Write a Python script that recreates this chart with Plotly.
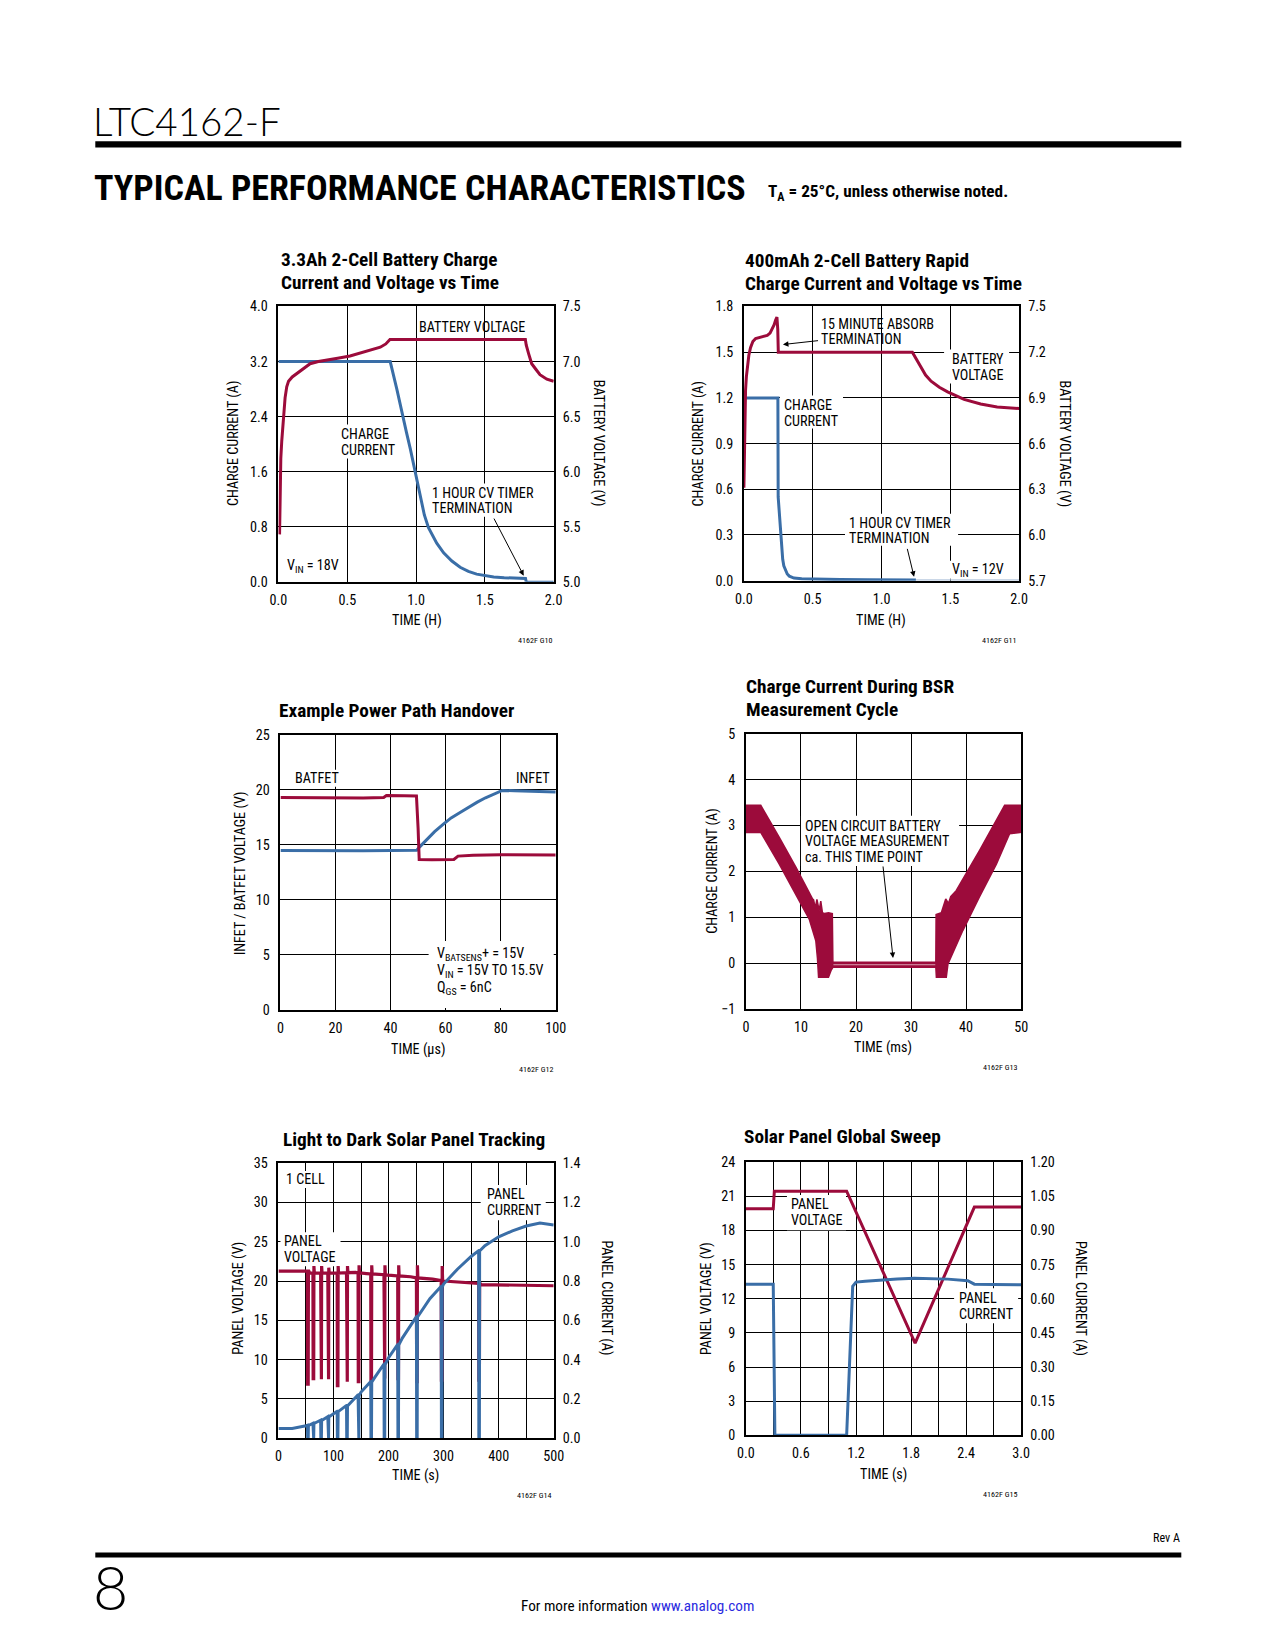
import plotly.graph_objects as go

PAGE_W, PAGE_H = 1275, 1650
OFF = 8                      # default body margin of the html page
FW, FH = PAGE_W - 2 * OFF, PAGE_H - 2 * OFF
# measured placement correction of the photographed page (scale + offset)
SX, X0 = 0.984, 8.9
SY, Y0 = 0.9895, 7.8
FS = 1 / 0.987               # font size compensation

RED = "#9C0B3B"
BLUE = "#3A6EA7"
PALE_BLUE = "#B8CADF"
PALE_RED = "#D9A0B0"
NARROW = "'Liberation Sans Narrow', 'Arial Narrow', 'Roboto Condensed', Roboto, sans-serif"
THIN = "Lato, 'Open Sans', sans-serif"

# ---------------- DATA ----------------
# G10: 3.3Ah 2-cell battery charge
G10_T_I = [0.0, 0.812, 0.86, 0.897, 0.93, 0.958, 0.994, 1.03, 1.06, 1.09, 1.12, 1.15, 1.2, 1.26,
           1.32, 1.38, 1.44, 1.50, 1.564, 1.64, 1.72, 1.795, 1.80]
G10_I = [3.2, 3.2, 2.80, 2.45, 2.17, 1.93, 1.60, 1.22, 0.97, 0.785, 0.66, 0.56, 0.42, 0.30,
         0.21, 0.15, 0.11, 0.085, 0.068, 0.058, 0.052, 0.048, 0.0]
G10_T_I_TAIL = [1.80, 2.0]
G10_I_TAIL = [0.004, 0.004]
G10_T_V = [0.008, 0.012, 0.017, 0.024, 0.036, 0.048, 0.06, 0.073, 0.10, 0.133, 0.18, 0.23, 0.29,
           0.35, 0.43, 0.52, 0.60, 0.67, 0.74, 0.78, 0.81, 1.794, 1.80, 1.818, 1.84, 1.87, 1.90,
           1.95, 2.0]
G10_V = [5.43, 5.9, 6.12, 6.28, 6.52, 6.67, 6.77, 6.82, 6.86, 6.89, 6.94, 6.98, 7.0,
         7.01, 7.03, 7.05, 7.08, 7.10, 7.13, 7.16, 7.2, 7.2, 7.15, 7.07, 6.98, 6.93, 6.88,
         6.84, 6.82]
G10_XT = [0, 0.5, 1.0, 1.5, 2.0]
G10_XL = ["0.0", "0.5", "1.0", "1.5", "2.0"]
G10_YT = [0, 0.8, 1.6, 2.4, 3.2, 4.0]
G10_YL = ["0.0", "0.8", "1.6", "2.4", "3.2", "4.0"]
G10_Y2T = [5.0, 5.5, 6.0, 6.5, 7.0, 7.5]
G10_Y2L = ["5.0", "5.5", "6.0", "6.5", "7.0", "7.5"]

# G11: 400mAh 2-cell rapid charge
G11_T_V = [0.0, 0.004, 0.008, 0.012, 0.018, 0.024, 0.036, 0.048, 0.065, 0.085, 0.12, 0.17, 0.19,
           0.206, 0.22, 0.23, 0.24, 0.246, 0.25, 1.224, 1.25, 1.285, 1.32, 1.36, 1.42, 1.48, 1.6,
           1.72, 1.84, 2.0]
G11_V = [6.31, 6.6, 6.82, 6.95, 7.04, 7.1, 7.18, 7.23, 7.27, 7.29, 7.30, 7.31, 7.325,
         7.35, 7.38, 7.41, 7.43, 7.35, 7.2, 7.2, 7.16, 7.10, 7.05, 7.01, 6.97, 6.94, 6.89,
         6.86, 6.84, 6.83]
G11_T_I = [0.0, 0.247, 0.249, 0.255, 0.262, 0.268, 0.274, 0.282, 0.29, 0.30, 0.315, 0.33, 0.364,
           0.42, 0.51, 0.7, 0.9, 1.1, 1.25]
G11_I = [1.2, 1.2, 0.55, 0.48, 0.35, 0.27, 0.197, 0.14, 0.098, 0.07, 0.044, 0.03, 0.017,
         0.012, 0.009, 0.007, 0.006, 0.005, 0.005]
G11_T_I_TAIL = [1.25, 2.0]
G11_I_TAIL = [0.004, 0.004]
G11_XT = [0, 0.5, 1.0, 1.5, 2.0]
G11_XL = ["0.0", "0.5", "1.0", "1.5", "2.0"]
G11_YT = [0, 0.3, 0.6, 0.9, 1.2, 1.5, 1.8]
G11_YL = ["0.0", "0.3", "0.6", "0.9", "1.2", "1.5", "1.8"]
G11_Y2T = [5.7, 6.0, 6.3, 6.6, 6.9, 7.2, 7.5]
G11_Y2L = ["5.7", "6.0", "6.3", "6.6", "6.9", "7.2", "7.5"]

# G12: power path handover
G12_T_BAT = [0, 10, 20, 30, 37.5, 38.5, 45, 49.4, 50.0, 50.4, 55, 60, 63, 64.5, 70, 80, 90, 100]
G12_V_BAT = [19.3, 19.28, 19.3, 19.27, 19.3, 19.48, 19.47, 19.45, 16.5, 13.67, 13.65, 13.65,
             13.68, 13.98, 14.05, 14.1, 14.12, 14.08]
G12_T_IN = [0, 10, 20, 30, 40, 49.5, 50.5, 53.3, 56, 59.3, 62, 65.4, 68.5, 71.5, 74.5, 77.5,
            80.6, 85, 90, 95, 100]
G12_V_IN = [14.5, 14.48, 14.5, 14.47, 14.5, 14.52, 14.8, 15.55, 16.2, 16.9, 17.45, 17.97, 18.45,
            18.88, 19.28, 19.64, 19.94, 19.92, 19.9, 19.85, 19.8]
G12_XT = [0, 20, 40, 60, 80, 100]
G12_XL = ["0", "20", "40", "60", "80", "100"]
G12_YT = [0, 5, 10, 15, 20, 25]
G12_YL = ["0", "5", "10", "15", "20", "25"]

# G13: BSR measurement cycle (envelope of the noisy current trace)
G13_T_UP = [0, 2.7, 6.06, 9.1, 12.1, 12.3, 12.6, 12.9, 13.3, 13.6, 13.9, 14.3, 15.0, 15.7, 15.8,
            34.5, 34.55, 35.5, 36.3, 36.8, 37.2, 38.2, 42.4, 45.5, 47.0, 50]
G13_I_UP = [3.44, 3.44, 2.74, 2.09, 1.40, 1.38, 1.2, 1.39, 1.15, 1.35, 1.1, 1.08, 1.1, 1.08, 0.02,
            0.02, 1.06, 1.1, 1.4, 1.3, 1.45, 1.58, 2.45, 3.11, 3.44, 3.44]
G13_T_LO = [0, 2.7, 6.06, 9.1, 11.5, 12.7, 13.0, 13.2, 15.0, 15.5, 15.8, 34.5, 34.6, 36.4, 36.7,
            39.4, 42.4, 45.5, 47.9, 50]
G13_I_LO = [2.85, 2.85, 2.16, 1.5, 0.96, 0.49, 0.1, -0.31, -0.31, -0.15, -0.09, -0.09, -0.31,
            -0.31, -0.02, 0.71, 1.44, 2.16, 2.82, 2.85]
G13_T_MID = [15.9, 34.4]
G13_I_MID = [-0.035, -0.035]
G13_XT = [0, 10, 20, 30, 40, 50]
G13_XL = ["0", "10", "20", "30", "40", "50"]
G13_YT = [-1, 0, 1, 2, 3, 4, 5]
G13_YL = ["\u22121", "0", "1", "2", "3", "4", "5"]

# G14: light to dark solar panel tracking
G14_T_V = [0, 50, 57, 100, 140, 160, 200, 240, 280, 300, 330, 360, 368, 400, 450, 500]
G14_V = [21.25, 21.25, 21.0, 21.0, 21.1, 20.95, 20.75, 20.55, 20.25, 20.0, 19.85, 19.8, 19.55,
         19.5, 19.45, 19.4]
G14_T_I = [0, 25, 50, 70, 100, 120, 150, 175, 200, 225, 250, 275, 300, 325, 350, 375, 400, 425,
           450, 475, 500]
G14_I = [0.05, 0.05, 0.064, 0.083, 0.125, 0.16, 0.235, 0.31, 0.41, 0.51, 0.615, 0.71, 0.785,
         0.86, 0.925, 0.98, 1.025, 1.055, 1.08, 1.095, 1.085]
G14_DIP_T = [53, 63, 77, 90, 107, 124, 145, 168, 192, 217, 251, 296, 364]
G14_DIP_V_BASE = [21.25, 21.0, 21.0, 21.0, 21.02, 21.06, 21.05, 20.9, 20.8, 20.65, 20.4, 20.05, 19.7]
G14_DIP_V_LOW = [6.9, 7.6, 7.5, 7.5, 6.7, 7.2, 7.2, 7.4, 7.6, 7.6, 7.2, 7.4, 7.4]
G14_DIP_V_HIGH = [21.25, 21.9, 21.9, 21.7, 21.9, 21.9, 22.0, 22.0, 22.0, 22.0, 22.0, 21.9, 19.7]
G14_DIP_I_BASE = [0.066, 0.076, 0.092, 0.11, 0.137, 0.167, 0.222, 0.289, 0.378, 0.478, 0.619,
                  0.773, 0.955]
G14_DIP_I_LOW = [0.0] * 13
G14_XT = [0, 100, 200, 300, 400, 500]
G14_XL = ["0", "100", "200", "300", "400", "500"]
G14_XGRID_MINOR = [50, 150, 250, 350, 450]
G14_YT = [0, 5, 10, 15, 20, 25, 30, 35]
G14_YL = ["0", "5", "10", "15", "20", "25", "30", "35"]
G14_Y2T = [0, 0.2, 0.4, 0.6, 0.8, 1.0, 1.2, 1.4]
G14_Y2L = ["0.0", "0.2", "0.4", "0.6", "0.8", "1.0", "1.2", "1.4"]

# G15: solar panel global sweep
G15_T_V = [0, 0.298, 0.31, 1.098, 1.844, 2.49, 3.0]
G15_V = [19.9, 19.9, 21.45, 21.45, 8.1, 20.05, 20.05]
G15_T_I = [0, 0.298, 0.316, 1.098, 1.164, 1.2, 1.3, 1.473, 1.65, 1.836, 2.0, 2.2, 2.418, 2.46,
           2.49, 2.7, 3.0]
G15_I = [0.664, 0.664, 0.0, 0.0, 0.654, 0.673, 0.677, 0.683, 0.687, 0.69, 0.688, 0.686, 0.679,
         0.672, 0.664, 0.662, 0.661]
G15_XT = [0, 0.6, 1.2, 1.8, 2.4, 3.0]
G15_XL = ["0.0", "0.6", "1.2", "1.8", "2.4", "3.0"]
G15_XGRID_MINOR = [0.3, 0.9, 1.5, 2.1, 2.7]
G15_YT = [0, 3, 6, 9, 12, 15, 18, 21, 24]
G15_YL = ["0", "3", "6", "9", "12", "15", "18", "21", "24"]
G15_Y2T = [0, 0.15, 0.30, 0.45, 0.60, 0.75, 0.90, 1.05, 1.20]
G15_Y2L = ["0.00", "0.15", "0.30", "0.45", "0.60", "0.75", "0.90", "1.05", "1.20"]


def with_dips(base_t, base_v, dip_t, dip_base, dip_low, dip_high):
    pts = list(zip(base_t, base_v))
    for t, b, lo, hi in zip(dip_t, dip_base, dip_low, dip_high):
        pts += [(t - 0.4, b), (t, lo), (t + 1.0, lo), (t + 1.4, hi), (t + 2.2, b)]
    pts.sort()
    return [p[0] for p in pts], [p[1] for p in pts]


# target page px -> figure paper coordinates
def PX(x):
    return ((x - X0) / SX - OFF) / FW


def PY(y):
    return 1 - ((y - Y0) / SY - OFF) / FH


# ---------------- LAYOUT GEOMETRY (target page px) ----------------
BOX = {
    "g10": (278, 553, 306, 581),
    "g11": (743, 1018, 306, 580),
    "g12": (280, 555, 734, 1009),
    "g13": (745, 1020, 733, 1008),
    "g14": (278, 553, 1162, 1437),
    "g15": (745, 1020, 1161, 1434),
}
AX = {"g10": ("x", "y", "y2"), "g11": ("x2", "y3", "y4"), "g12": ("x3", "y5", None),
      "g13": ("x4", "y6", None), "g14": ("x5", "y7", "y8"), "g15": ("x6", "y9", "y10")}
RANGES = {}

TICKFONT = dict(family=NARROW, size=14 * FS, color="black")


def lk(a):
    return "xaxis" + a[1:] if a.startswith("x") else "yaxis" + a[1:]


layout_axes = {}


def make_axes(key, xr, xt, xl, yr, yt, yl, y2r=None, y2t=None, y2l=None, xminor=None):
    L, R, T, B = BOX[key]
    RANGES[key] = (xr, yr)
    xa, ya, y2a = AX[key]
    common = dict(showline=True, mirror=True, linecolor="black", linewidth=1.6,
                  showgrid=True, gridcolor="black", gridwidth=1, zeroline=False,
                  ticks="", tickfont=TICKFONT, fixedrange=True, tickmode="array")
    xd = dict(common, domain=[PX(L), PX(R)], range=xr, tickvals=xt, ticktext=xl, anchor=ya,
              ticklabelstandoff=4)
    if xminor:
        xd["minor"] = dict(tickmode="array", tickvals=xminor, showgrid=True, gridcolor="black",
                           gridwidth=1, ticks="")
    layout_axes[lk(xa)] = xd
    layout_axes[lk(ya)] = dict(common, domain=[PY(B), PY(T)], range=yr, tickvals=yt,
                               ticktext=yl, anchor=xa, ticklabelstandoff=6)
    if y2a:
        layout_axes[lk(y2a)] = dict(showline=False, showgrid=False, zeroline=False, ticks="",
                                    tickfont=TICKFONT, fixedrange=True, tickmode="array",
                                    overlaying=ya, side="right", anchor=xa, range=y2r,
                                    tickvals=y2t, ticktext=y2l, ticklabelstandoff=8)


make_axes("g10", [0, 2], G10_XT, G10_XL, [0, 4], G10_YT, G10_YL, [5, 7.5], G10_Y2T, G10_Y2L)
make_axes("g11", [0, 2], G11_XT, G11_XL, [0, 1.8], G11_YT, G11_YL, [5.7, 7.5], G11_Y2T, G11_Y2L)
make_axes("g12", [0, 100], G12_XT, G12_XL, [0, 25], G12_YT, G12_YL)
make_axes("g13", [0, 50], G13_XT, G13_XL, [-1, 5], G13_YT, G13_YL)
make_axes("g14", [0, 500], G14_XT, G14_XL, [0, 35], G14_YT, G14_YL, [0, 1.4], G14_Y2T, G14_Y2L,
          xminor=G14_XGRID_MINOR)
make_axes("g15", [0, 3], G15_XT, G15_XL, [0, 24], G15_YT, G15_YL, [0, 1.2], G15_Y2T, G15_Y2L,
          xminor=G15_XGRID_MINOR)

fig = go.Figure()

# white masks (behind the curves, above the grid) where the labels interrupt the grid
MASKS = {
    "g10": [(336, 400, 424, 458), (427, 540, 483, 516)],
    "g11": [(943, 1008, 349, 383), (779, 842, 395, 428), (844, 957, 513, 545),
            (946, 1008, 560, 578)],
    "g12": [(291, 340, 769, 786), (511, 550, 769, 786), (428, 553, 940, 1007)],
    "g13": [(800, 958, 815, 865)],
    "g14": [(282, 328, 1170, 1187), (280, 340, 1231, 1265), (480, 545, 1184, 1219)],
    "g15": [(786, 845, 1194, 1229), (953, 1017, 1287, 1322)],
}
for key, rects in MASKS.items():
    L, R, T, B = BOX[key]
    (x0r, x1r), (y0r, y1r) = RANGES[key]
    xa, ya, _ = AX[key]
    mx, my = [], []
    for (px0, px1, py0, py1) in rects:
        a = x0r + (px0 - L) / (R - L) * (x1r - x0r)
        b = x0r + (px1 - L) / (R - L) * (x1r - x0r)
        c = y0r + (B - py1) / (B - T) * (y1r - y0r)
        d = y0r + (B - py0) / (B - T) * (y1r - y0r)
        mx += [a, b, b, a, a, None]
        my += [c, c, d, d, c, None]
    fig.add_trace(go.Scatter(x=mx, y=my, mode="lines", fill="toself", fillcolor="white",
                             line=dict(width=0, color="white"), xaxis=xa, yaxis=ya,
                             hoverinfo="skip", showlegend=False))


def line(key, x, y, color, width=3.0, right=False):
    xa, ya, y2a = AX[key]
    fig.add_trace(go.Scatter(x=x, y=y, mode="lines", line=dict(color=color, width=width),
                             xaxis=xa, yaxis=(y2a if right else ya), hoverinfo="skip",
                             showlegend=False))


# G10
line("g10", G10_T_I, G10_I, BLUE)
line("g10", G10_T_I_TAIL, G10_I_TAIL, BLUE, 1.5)
line("g10", G10_T_V, G10_V, RED, right=True)
# G11
line("g11", G11_T_I, G11_I, BLUE)
line("g11", G11_T_I_TAIL, G11_I_TAIL, PALE_BLUE, 1.5)
line("g11", G11_T_V, G11_V, RED, right=True)
# G12
line("g12", G12_T_IN, G12_V_IN, BLUE)
line("g12", G12_T_BAT, G12_V_BAT, RED)
# G13
fig.add_trace(go.Scatter(x=G13_T_UP + G13_T_LO[::-1], y=G13_I_UP + G13_I_LO[::-1], mode="lines",
                         fill="toself", fillcolor=RED, line=dict(color=RED, width=1.5),
                         xaxis="x4", yaxis="y6", hoverinfo="skip", showlegend=False))
line("g13", G13_T_MID, G13_I_MID, PALE_RED, 1.0)
# G14
tv, vv = with_dips(G14_T_V, G14_V, G14_DIP_T, G14_DIP_V_BASE, G14_DIP_V_LOW, G14_DIP_V_HIGH)
ti, ii = with_dips(G14_T_I, G14_I, G14_DIP_T, G14_DIP_I_BASE, G14_DIP_I_LOW, G14_DIP_I_BASE)
line("g14", tv, vv, RED, 3.2)
line("g14", ti, ii, BLUE, 3.0, right=True)
# G15
line("g15", G15_T_V, G15_V, RED)
line("g15", G15_T_I, G15_I, BLUE, right=True)

# ---------------- TEXT ----------------
ANN = []


def txt(s, x, y, size=14, xanchor="left", color="black", angle=0, family=NARROW, weight=None):
    f = dict(family=family, size=size * FS, color=color)
    if weight is not None:
        f["weight"] = weight
    ANN.append(dict(text=s, x=PX(x), y=PY(y), xref="paper", yref="paper", xanchor=xanchor,
                    yanchor="middle", showarrow=False, font=f, textangle=angle))


def lines(strs, x, y0, dy, **kw):
    for i, s in enumerate(strs):
        txt(s, x, y0 + i * dy, **kw)


def arrow(hx, hy, tx, ty):
    ANN.append(dict(text="", x=PX(hx), y=PY(hy), xref="paper", yref="paper",
                    ax=(tx - hx) / SX, ay=(ty - hy) / SY, axref="pixel", ayref="pixel",
                    showarrow=True, arrowhead=2, arrowsize=1.1, arrowwidth=1,
                    arrowcolor="black"))


# page header / footer
txt("LTC4162-F", 91, 121, size=38, family=THIN, weight=300)
txt("<b>TYPICAL PERFORMANCE CHARACTERISTICS</b>", 92, 188, size=35.5)
txt("<b>T<sub>A</sub> = 25°C, unless otherwise noted.</b>", 765, 192, size=17)
txt("Rev A", 1181, 1537, size=12, xanchor="right")
txt("8", 91, 1585, size=60, family=THIN, weight=300)
txt("For more information <span style='color:#2B2BE0'>www.analog.com</span>", 637, 1605,
    size=15, xanchor="center")

# chart titles
lines(["<b>3.3Ah 2-Cell Battery Charge</b>", "<b>Current and Voltage vs Time</b>"], 279, 259, 23,
      size=19)
lines(["<b>400mAh 2-Cell Battery Rapid</b>", "<b>Charge Current and Voltage vs Time</b>"], 742,
      260, 23, size=19)
txt("<b>Example Power Path Handover</b>", 277, 710, size=19)
lines(["<b>Charge Current During BSR</b>", "<b>Measurement Cycle</b>"], 743, 686, 23, size=19)
txt("<b>Light to Dark Solar Panel Tracking</b>", 281, 1138, size=19)
txt("<b>Solar Panel Global Sweep</b>", 741, 1135, size=19)

# axis titles
txt("CHARGE CURRENT (A)", 233, 443, angle=-90, xanchor="center")
txt("BATTERY VOLTAGE (V)", 598, 443, angle=90, xanchor="center")
txt("TIME (H)", 416, 620, xanchor="center")
txt("CHARGE CURRENT (A)", 698, 443, angle=-90, xanchor="center")
txt("BATTERY VOLTAGE (V)", 1063, 443, angle=90, xanchor="center")
txt("TIME (H)", 880, 620, xanchor="center")
txt("INFET / BATFET VOLTAGE (V)", 240, 872, angle=-90, xanchor="center")
txt("TIME (µs)", 417, 1048, xanchor="center")
txt("CHARGE CURRENT (A)", 712, 870, angle=-90, xanchor="center")
txt("TIME (ms)", 882, 1046, xanchor="center")
txt("PANEL VOLTAGE (V)", 238, 1297, angle=-90, xanchor="center")
txt("PANEL CURRENT (A)", 606, 1297, angle=90, xanchor="center")
txt("TIME (s)", 415, 1474, xanchor="center")
txt("PANEL VOLTAGE (V)", 705, 1297, angle=-90, xanchor="center")
txt("PANEL CURRENT (A)", 1080, 1297, angle=90, xanchor="center")
txt("TIME (s)", 882, 1473, xanchor="center")

# chart ids
for s, x, y in [("4162F G10", 554, 639), ("4162F G11", 1018, 639), ("4162F G12", 555, 1068),
                ("4162F G13", 1019, 1066), ("4162F G14", 553, 1494), ("4162F G15", 1019, 1493)]:
    txt(s, x, y, size=8, xanchor="right")

# in-chart labels
txt("BATTERY VOLTAGE", 416, 326)
lines(["CHARGE", "CURRENT"], 338, 433, 16)
lines(["1 HOUR CV TIMER", "TERMINATION"], 429, 492, 15)
arrow(523, 575, 493, 517)
txt("V<sub>IN</sub> = 18V", 285, 565)

lines(["15 MINUTE ABSORB", "TERMINATION"], 818, 323, 15)
arrow(782, 344, 818, 340)
lines(["BATTERY", "VOLTAGE"], 949, 358, 16)
lines(["CHARGE", "CURRENT"], 781, 404, 16)
lines(["1 HOUR CV TIMER", "TERMINATION"], 846, 522, 15)
arrow(913, 576, 906, 547)
txt("V<sub>IN</sub> = 12V", 949, 569)

txt("BATFET", 293, 777)
txt("INFET", 513, 777)
lines(["V<sub>BATSENS</sub>+ = 15V", "V<sub>IN</sub> = 15V TO 15.5V", "Q<sub>GS</sub> = 6nC"],
      434, 953, 17)

lines(["OPEN CIRCUIT BATTERY", "VOLTAGE MEASUREMENT", "ca. THIS TIME POINT"], 802, 825, 15.5)
arrow(892, 957, 882, 865)

txt("1 CELL", 284, 1178)
lines(["PANEL", "VOLTAGE"], 282, 1240, 16)
lines(["PANEL", "CURRENT"], 484, 1193, 16)

lines(["PANEL", "VOLTAGE"], 788, 1203, 16)
lines(["PANEL", "CURRENT"], 956, 1297, 15.5)

# ---------------- SHAPES ----------------
SHP = [
    dict(type="rect", xref="paper", yref="paper", x0=PX(95), x1=PX(1180), y0=PY(147),
         y1=PY(141), fillcolor="black", line=dict(width=0)),
    dict(type="rect", xref="paper", yref="paper", x0=PX(95), x1=PX(1180), y0=PY(1556),
         y1=PY(1551), fillcolor="black", line=dict(width=0)),
]

fig.update_layout(width=FW, height=FH, margin=dict(l=0, r=0, t=0, b=0), paper_bgcolor="white",
                  plot_bgcolor="white", showlegend=False, annotations=ANN, shapes=SHP,
                  **layout_axes)

fig.write_html("out.html", config={"displayModeBar": False})
